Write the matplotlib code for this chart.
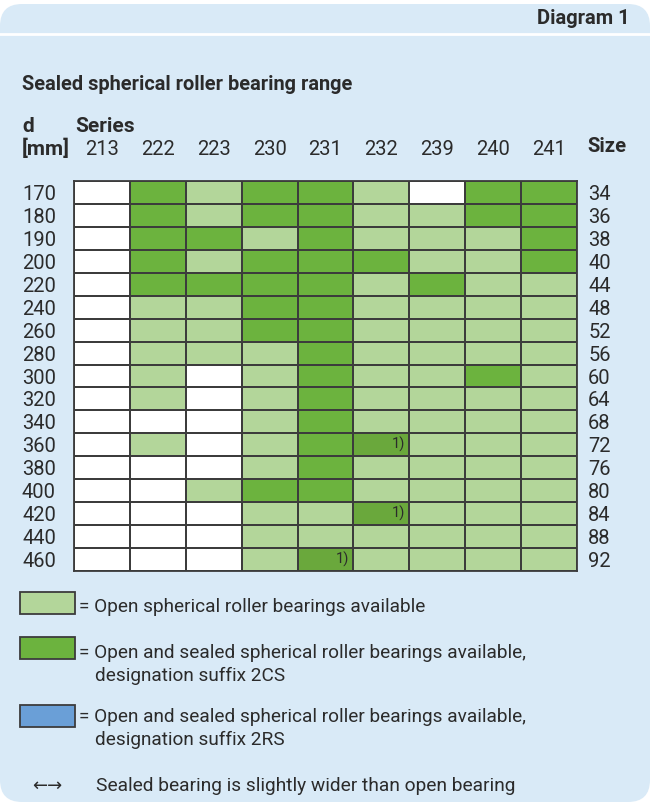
import numpy as np
import matplotlib.pyplot as plt
from matplotlib.colors import ListedColormap
from matplotlib.patches import FancyBboxPatch, Rectangle

plt.rcParams['font.family'] = ['Roboto', 'DejaVu Sans']

# series (columns), bore diameters and size codes (rows)
series = ['213', '222', '223', '230', '231', '232', '239', '240', '241']
bore_d = [170, 180, 190, 200, 220, 240, 260, 280, 300, 320, 340, 360, 380, 400, 420, 440, 460]
size_code = [34, 36, 38, 40, 44, 48, 52, 56, 60, 64, 68, 72, 76, 80, 84, 88, 92]

# 0 = not available, 1 = open only, 2 = open + sealed 2CS, 3 = sealed 2CS with footnote 1)
availability = [
    [0, 2, 1, 2, 2, 1, 0, 2, 2],
    [0, 2, 1, 2, 2, 1, 1, 2, 2],
    [0, 2, 2, 1, 2, 1, 1, 1, 2],
    [0, 2, 1, 2, 2, 2, 1, 1, 2],
    [0, 2, 2, 2, 2, 1, 2, 1, 1],
    [0, 1, 1, 2, 2, 1, 1, 1, 1],
    [0, 1, 1, 2, 2, 1, 1, 1, 1],
    [0, 1, 1, 1, 2, 1, 1, 1, 1],
    [0, 1, 0, 1, 2, 1, 1, 2, 1],
    [0, 1, 0, 1, 2, 1, 1, 1, 1],
    [0, 0, 0, 1, 2, 1, 1, 1, 1],
    [0, 1, 0, 1, 2, 3, 1, 1, 1],
    [0, 0, 0, 1, 2, 1, 1, 1, 1],
    [0, 0, 1, 2, 2, 1, 1, 1, 1],
    [0, 0, 0, 1, 1, 3, 1, 1, 1],
    [0, 0, 0, 1, 1, 1, 1, 1, 1],
    [0, 0, 0, 1, 3, 1, 1, 1, 1],
]

legend_line1 = [
    '= Open spherical roller bearings available',
    '= Open and sealed spherical roller bearings available,',
    '= Open and sealed spherical roller bearings available,',
]
legend_line2 = ['', 'designation suffix 2CS', 'designation suffix 2RS']

bg_blue = '#d9eaf7'
white = '#ffffff'
light_green = '#b3d69a'
dark_green = '#6cb33e'
note_green = '#6aa83c'
blue = '#6a9fd7'
text_col = '#2b2b2b'
line_col = '#3c3c3c'

W, H = 652, 806
fig = plt.figure(figsize=(W / 100, H / 100), dpi=100)
fig.patch.set_facecolor('white')

# background panel, drawn in pixel coordinates
bg = fig.add_axes([0, 0, 1, 1])
bg.set_xlim(0, W)
bg.set_ylim(H, 0)
bg.axis('off')
bg.add_patch(FancyBboxPatch((0, 4), W - 2, H - 8, boxstyle='round,pad=0,rounding_size=22',
                            facecolor=bg_blue, edgecolor='none'))
bg.plot([0, W], [34, 34], color='white', lw=2)

bg.text(630, 19, 'Diagram 1', ha='right', va='center', fontsize=14.5, fontweight='bold', color=text_col)
bg.text(22, 85, 'Sealed spherical roller bearing range', ha='left', va='center',
        fontsize=14.4, fontweight='bold', color=text_col)
bg.text(22, 127, 'd', ha='left', va='center', fontsize=15, fontweight='bold', color=text_col)
bg.text(75, 127, 'Series', ha='left', va='center', fontsize=15, fontweight='bold', color=text_col)
bg.text(22, 149, '[mm]', ha='left', va='center', fontsize=15, fontweight='bold', color=text_col)
bg.text(587, 146, 'Size', ha='left', va='center', fontsize=14.5, fontweight='bold', color=text_col)

# grid of availability
gx0, gx1, gy0, gy1 = 74, 577, 181, 571
ax = fig.add_axes([gx0 / W, 1 - gy1 / H, (gx1 - gx0) / W, (gy1 - gy0) / H])
data = np.array(availability)
cmap = ListedColormap([white, light_green, dark_green, note_green])
ax.pcolormesh(data, cmap=cmap, vmin=-0.5, vmax=3.5, edgecolors=line_col, linewidth=1.3)
ax.set_xlim(0, len(series))
ax.set_ylim(len(bore_d), 0)
for s in ax.spines.values():
    s.set_color(line_col)
    s.set_linewidth(1.3)

ax.set_xticks(np.arange(len(series)) + 0.5)
ax.set_xticklabels(series, fontsize=14.5, color=text_col)
ax.xaxis.tick_top()
ax.set_yticks(np.arange(len(bore_d)) + 0.5)
ax.set_yticklabels(bore_d, fontsize=14.5, color=text_col)
ax.tick_params(length=0)
ax.tick_params(axis='x', pad=16)
ax.tick_params(axis='y', pad=13)

ax2 = ax.twinx()
ax2.set_ylim(len(bore_d), 0)
ax2.set_yticks(np.arange(len(size_code)) + 0.5)
ax2.set_yticklabels(size_code, fontsize=14.5, color=text_col)
ax2.tick_params(length=0, pad=8)
for s in ax2.spines.values():
    s.set_visible(False)

for r, row in enumerate(availability):
    for c, v in enumerate(row):
        if v == 3:
            ax.text(c + 0.93, r + 0.5, '1)', ha='right', va='center', fontsize=10.5, color=text_col)

# legend
legend_colors = [light_green, dark_green, blue]
box_y = [603, 648, 716]
text_y = [607, 653, 717]
for col, by, ty, t1, t2 in zip(legend_colors, box_y, text_y, legend_line1, legend_line2):
    bg.add_patch(Rectangle((20, by - 11), 55, 22, facecolor=col, edgecolor=line_col, lw=1.3))
    bg.text(79, ty, t1, ha='left', va='center', fontsize=13.7, color=text_col)
    if t2:
        bg.text(95, ty + 23, t2, ha='left', va='center', fontsize=13.7, color=text_col)

bg.text(47, 786, '\u2190\u2192', ha='center', va='center', fontsize=13, color=text_col,
        family=['DejaVu Sans'])
bg.text(96, 786, 'Sealed bearing is slightly wider than open bearing', ha='left', va='center',
        fontsize=13.8, color=text_col)

fig.savefig('out.png', dpi=100)
